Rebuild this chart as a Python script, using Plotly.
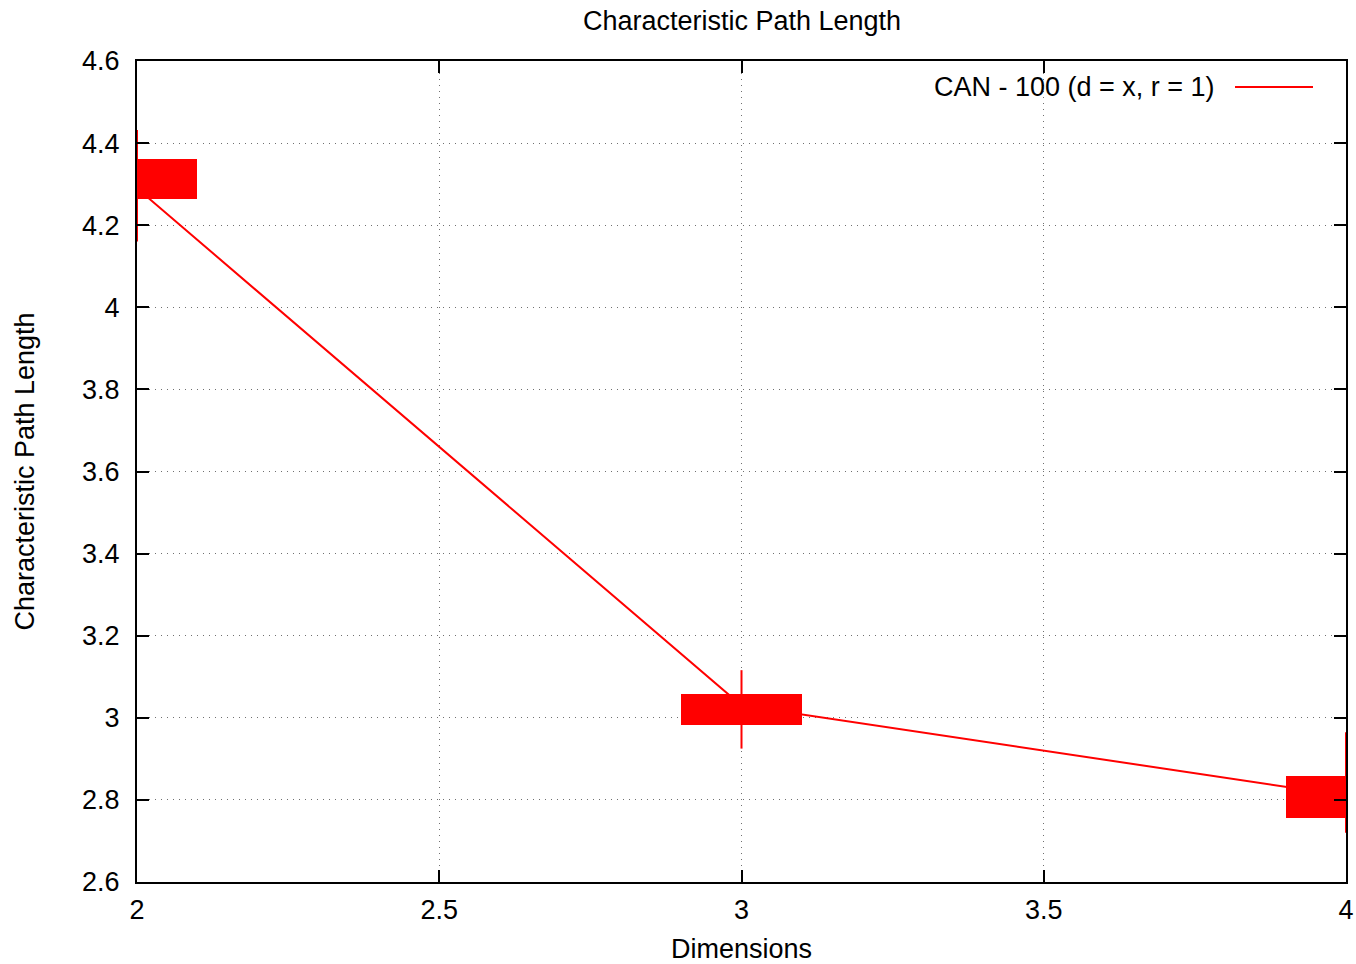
import plotly.graph_objects as go

# Data
dimensions = [2, 3, 4]
path_length = [4.29, 3.03, 2.81]
box_low = [4.264, 2.983, 2.757]
box_high = [4.361, 3.058, 2.858]
whisker_low = [4.160, 2.925, 2.720]
whisker_high = [4.432, 3.116, 2.965]
series_name = "CAN - 100 (d = x, r = 1)"
x_ticks = [2, 2.5, 3, 3.5, 4]
x_ticktext = ["2", "2.5", "3", "3.5", "4"]
y_ticks = [2.6, 2.8, 3.0, 3.2, 3.4, 3.6, 3.8, 4.0, 4.2, 4.4, 4.6]
y_ticktext = ["2.6", "2.8", "3", "3.2", "3.4", "3.6", "3.8", "4", "4.2", "4.4", "4.6"]

RED = "#ff0000"
FONT = "Liberation Sans, Arial, Helvetica, sans-serif"
FS = 27

fig = go.Figure()

fig.add_trace(go.Bar(
    x=dimensions,
    y=[h - l for h, l in zip(box_high, box_low)],
    base=box_low,
    width=0.2,
    marker=dict(color=RED, line=dict(width=0)),
    showlegend=False,
    hoverinfo="skip",
))

fig.add_trace(go.Scatter(
    x=dimensions,
    y=path_length,
    mode="lines",
    line=dict(color=RED, width=2),
    error_y=dict(
        type="data",
        symmetric=False,
        array=[h - m for h, m in zip(whisker_high, path_length)],
        arrayminus=[m - l for m, l in zip(path_length, whisker_low)],
        color=RED,
        thickness=2,
        width=0,
    ),
    name=series_name,
    showlegend=False,
))

axis_common = dict(
    automargin=False,
    showline=True,
    linecolor="black",
    linewidth=2,
    mirror="ticks",
    ticks="inside",
    ticklen=12,
    tickwidth=1.5,
    tickcolor="black",
    showgrid=True,
    gridcolor="#707070",
    griddash="1px,5px",
    gridwidth=1,
    zeroline=False,
    tickfont=dict(family=FONT, size=FS, color="black"),
)

fig.update_xaxes(
    range=[2, 4],
    tickvals=x_ticks,
    ticktext=x_ticktext,
    ticklabelstandoff=3,
    title=dict(text="Dimensions", font=dict(family=FONT, size=FS, color="black"), standoff=18),
    **axis_common,
)
fig.update_yaxes(
    range=[2.6, 4.6],
    tickvals=y_ticks,
    ticktext=y_ticktext,
    ticklabelstandoff=10,
    title=dict(text="Characteristic Path Length", font=dict(family=FONT, size=FS, color="black"), standoff=40),
    **axis_common,
)

# Legend (text left of sample line, like the original)
fig.add_annotation(
    xref="paper", yref="paper", x=0.8933, y=0.9683,
    text=series_name, showarrow=False, xanchor="right", yanchor="middle",
    font=dict(family=FONT, size=FS, color="black"),
)
fig.add_shape(
    type="line", xref="paper", yref="paper",
    x0=0.9082, x1=0.9727, y0=0.9683, y1=0.9683,
    line=dict(color=RED, width=2),
)

fig.update_layout(
    width=1356,
    height=964,
    margin=dict(l=137, r=10, t=61, b=82, autoexpand=False),
    paper_bgcolor="white",
    plot_bgcolor="white",
    title=dict(
        text="Characteristic Path Length",
        x=0.5472, xanchor="center", y=0.979, yanchor="middle",
        font=dict(family=FONT, size=FS, color="black"),
    ),
    showlegend=False,
    bargap=0,
)

fig.write_html(
    "out.html",
    config={"displayModeBar": False},
    post_script=(
        "document.body.style.margin='0';"
        "document.documentElement.style.overflow='hidden';"
        "document.body.style.overflow='hidden';"
    ),
)
